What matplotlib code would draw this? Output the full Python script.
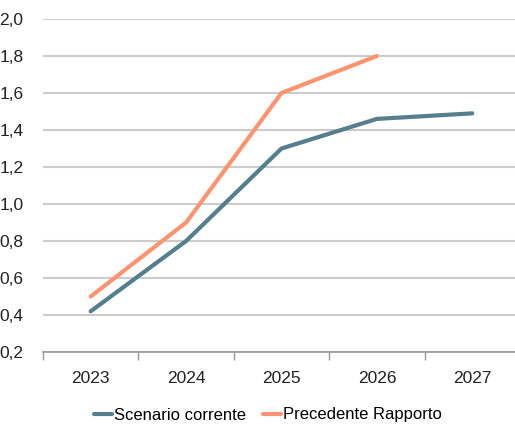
import matplotlib
matplotlib.use("Agg")
import matplotlib.pyplot as plt
from matplotlib.ticker import FixedLocator, FuncFormatter

years = ["2023", "2024", "2025", "2026", "2027"]
scenario_corrente = [0.42, 0.80, 1.30, 1.46, 1.49]
precedente_rapporto = [0.50, 0.90, 1.60, 1.80]
y_ticks = [0.2, 0.4, 0.6, 0.8, 1.0, 1.2, 1.4, 1.6, 1.8, 2.0]

plt.rcParams['font.family'] = ['Liberation Sans', 'DejaVu Sans']

fig = plt.figure(figsize=(5.15, 4.3), dpi=100)
# axes run slightly past the right edge of the figure
ax = fig.add_axes([43 / 515, 1 - 352 / 430, 477 / 515, 333 / 430])

x = list(range(len(years)))
ax.plot(x, scenario_corrente, color='#557f8d', lw=3.0, solid_capstyle='round',
        label='Scenario corrente', zorder=3)
ax.plot(x[:len(precedente_rapporto)], precedente_rapporto, color='#fe9470', lw=3.0,
        solid_capstyle='round', label='Precedente Rapporto', zorder=3)

ax.set_xlim(-0.5, len(years) - 0.5)
ax.set_ylim(0.2, 2.0)
ax.set_yticks(y_ticks)
ax.yaxis.set_major_formatter(FuncFormatter(lambda v, _: f"{v:.1f}".replace('.', ',')))
ax.set_xticks(x)
ax.set_xticklabels(years)
# category separators on the x axis
ax.xaxis.set_minor_locator(FixedLocator([i - 0.5 for i in range(len(years) + 1)]))

ax.tick_params(axis='x', which='major', length=0, pad=14, labelsize=12.5, colors='#222222')
ax.tick_params(axis='x', which='minor', length=6, width=1, color='#999999', direction='out')
ax.tick_params(axis='y', length=0, pad=14, labelsize=12.5, colors='#222222')

ax.grid(axis='y', color='#cccccc', lw=1.5, zorder=0)
ax.set_axisbelow(True)
for side in ['left', 'right', 'top']:
    ax.spines[side].set_visible(False)
ax.spines['bottom'].set_color('#999999')
ax.spines['bottom'].set_linewidth(1.2)

fig.legend(loc='center', bbox_to_anchor=(0.52, 1 - 415 / 430), ncol=2, frameon=False,
           fontsize=12, handlelength=1.1, handletextpad=0.1, columnspacing=1.0)

fig.savefig('out.png', dpi=100)
